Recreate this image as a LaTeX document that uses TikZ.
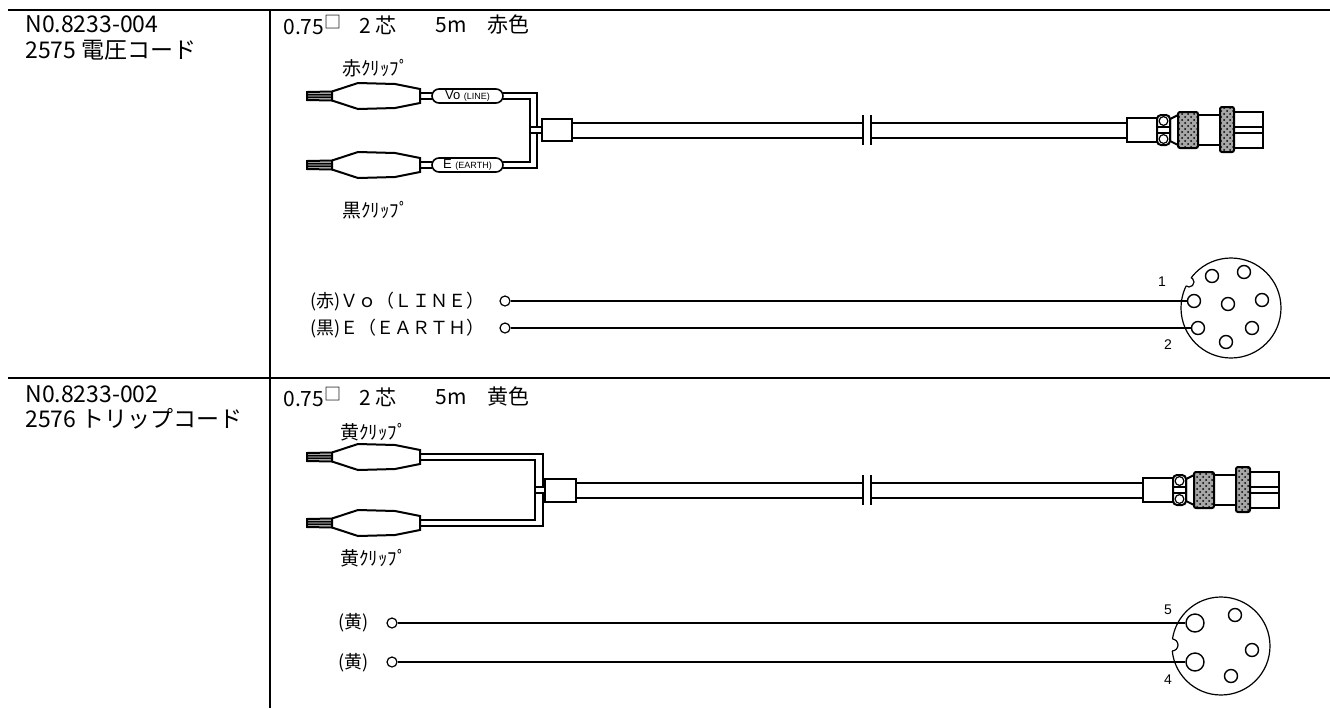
\documentclass[tikz,border=0pt]{standalone}
\usepackage{fontspec}
\setmainfont{Noto Sans CJK JP}
\newfontfamily\arialfont{Liberation Sans}
\usetikzlibrary{positioning,patterns}

\begin{document}
\begin{tikzpicture}[x=0.5pt,y=-0.5pt,
    frame/.style={line width=1.4pt},
    wire/.style={line width=1pt},
    sigline/.style={line width=0.6pt},
    title/.style={anchor=west,inner sep=0pt,font=\fontsize{11.5}{13}\selectfont},
    spec/.style={anchor=west,inner sep=0pt,font=\fontsize{10.5}{12}\selectfont},
    cliplabel/.style={anchor=west,inner sep=0pt,font=\fontsize{9.5}{11}\selectfont},
    sig/.style={anchor=west,inner sep=0pt,font=\fontsize{9}{11}\selectfont},
    capsule/.style={draw,line width=0.8pt,rounded corners=3.5pt,minimum width=35.5pt,minimum height=7pt,inner sep=0pt,fill=white},
    term/.style={circle,draw,line width=0.6pt,minimum size=5pt,inner sep=0pt},
    pin/.style={circle,draw,line width=0.7pt,minimum size=6.5pt,inner sep=0pt},
    bigpin/.style={pin,minimum size=9pt},
    pinno/.style={inner sep=0pt,font=\arialfont\fontsize{7}{8}\selectfont},
    knurl/.style={draw,line width=1pt,preaction={fill=black!35},pattern=crosshatch dots,rounded corners=1pt}]
\useasboundingbox (0,0) rectangle (1330,708);

% table
\draw[frame] (8,10) -- (1330,10);
\draw[frame] (8,378) -- (1330,378);
\draw[frame] (270,10) -- (270,708);

\node[title] (no1) at (25,24) {N0.8233-004};
\node[title] (name1) at (25,50) {2575 電圧コード};
\node[title] (no2) at (25,394) {N0.8233-002};
\node[title] (name2) at (25,419) {2576 トリップコード};

% spec lines
\node[spec] (size1) at (283,25) {0.75\raisebox{0.5ex}{\fontsize{8.5}{9}\selectfont □}};
\node[spec] (core1) at (359,25) {2 芯};
\node[spec] (len1) at (435,25) {5m};
\node[spec] (col1) at (487,25) {赤色};
\node[spec] (size2) at (283,397) {0.75\raisebox{0.5ex}{\fontsize{8.5}{9}\selectfont □}};
\node[spec] (core2) at (359,397) {2 芯};
\node[spec] (len2) at (435,397) {5m};
\node[spec] (col2) at (487,397) {黄色};

\node[cliplabel] (redclip) at (342,68) {赤ｸﾘｯﾌﾟ};
\node[cliplabel] (blackclip) at (342,210) {黒ｸﾘｯﾌﾟ};
\node[cliplabel] (yclip1) at (340,432) {黄ｸﾘｯﾌﾟ};
\node[cliplabel] (yclip2) at (340,558) {黄ｸﾘｯﾌﾟ};

% clips
\foreach \c in {96,165,457,523}{
  \draw[wire] (307,\c-4) -- (332,\c-4.5) -- (332,\c+4.5) -- (307,\c+4) -- cycle; %jaw
  \draw[wire] (307,\c-1.3) -- (332,\c-1.5) (307,\c+1.3) -- (332,\c+1.5);
  \draw[wire] (332,\c-4.5) -- (358,\c-13) -- (395,\c-12) -- (420,\c-7) -- (420,\c+7) -- (395,\c+12) -- (358,\c+13) -- (332,\c+4.5); %body
}

% 2575 wires
\draw[wire] (420,93) -- (432,93) (420,99) -- (432,99) (420,162) -- (432,162) (420,168) -- (432,168);
\node[capsule] (vo) at (467.5,96) {\arialfont\fontsize{6.5}{7}\selectfont Vo \fontsize{4.5}{5}\selectfont(LINE)};
\node[capsule] (earth) at (467.5,165) {\arialfont\fontsize{6.5}{7}\selectfont E \fontsize{4.5}{5}\selectfont(EARTH)};
\draw[wire] (503,93) -- (537,93) -- (537,127) -- (542,127);
\draw[wire] (503,99) -- (530,99) -- (530,162) -- (503,162);
\draw[wire] (503,168) -- (537,168) -- (537,133) -- (542,133);
\draw[wire] (530,127) -- (537,127) (530,133) -- (537,133);
\draw[wire] (542,119) rectangle (572,141);

% 2576 wires
\draw[wire] (420,454) -- (543,454) -- (543,487) -- (545,487);
\draw[wire] (420,460) -- (535,460) -- (535,520) -- (420,520);
\draw[wire] (420,526) -- (543,526) -- (543,493) -- (545,493);
\draw[wire] (535,487) -- (543,487) (535,493) -- (543,493);
\draw[wire] (545,479) rectangle (576,502);

% cable and plug
\foreach \dx/\j/\s in {0/130/572,16/490/576}{
  \draw[wire] (\s,\j-7.5) -- (863,\j-7.5) (\s,\j+7.5) -- (863,\j+7.5);
  \draw[wire] (871,\j-7.5) -- (1127+\dx,\j-7.5) (871,\j+7.5) -- (1127+\dx,\j+7.5);
  \draw[line width=1.3pt] (863,\j-15) -- (863,\j+15) (871,\j-15) -- (871,\j+15); %break
  \draw[wire] (1127+\dx,\j-12) rectangle (1157+\dx,\j+12);
  \draw[wire,rounded corners=2pt] (1157+\dx,\j-15) rectangle (1170+\dx,\j+15);
  \draw[line width=0.6pt] (1163.5+\dx,\j-9) circle (2.2pt) (1163.5+\dx,\j+9) circle (2.2pt);
  \draw[line width=0.6pt] (1157+\dx,\j-3) -- (1170+\dx,\j-3) (1157+\dx,\j+3) -- (1170+\dx,\j+3);
  \draw[wire] (1170+\dx,\j-11) -- (1178+\dx,\j-15) -- (1178+\dx,\j+15) -- (1170+\dx,\j+11) -- cycle;
  \draw[knurl] (1178+\dx,\j-18) rectangle (1198+\dx,\j+18);
  \draw[wire] (1198+\dx,\j-15) rectangle (1220+\dx,\j+15);
  \draw[knurl] (1220+\dx,\j-23) rectangle (1234+\dx,\j+22);
  \draw[wire] (1234+\dx,\j-18) rectangle (1263+\dx,\j+18);
  \draw[wire] (1234+\dx,\j-3) -- (1263+\dx,\j-3) (1234+\dx,\j+3) -- (1263+\dx,\j+3);
}

% 2575 pins
\node[sig] (vlab) at (310,302) {(赤)Ｖｏ（ＬＩＮＥ）};
\node[sig] (elab) at (310,329) {(黒)Ｅ（ＥＡＲＴＨ）};
\node[term] (t1) at (505,301) {};
\node[term] (t2) at (505,328) {};
\coordinate (plug1) at (1231,308);
\draw[sigline] (plug1) circle (25pt);
\fill[white] (1189,282) circle (2.5pt);
\begin{scope}
  \clip (plug1) circle (25pt);
  \draw[sigline] (1189,282) circle (2.5pt); %key
\end{scope}
\node[pin] (p1) at (1194,301) {};
\node[pin] (p2) at (1198,328) {};
\node[pin] (p3) at (1212,276) {};
\node[pin] (p4) at (1244,272) {};
\node[pin] (p5) at (1228,304) {};
\node[pin] (p6) at (1262,300) {};
\node[pin] (p7) at (1252,328) {};
\node[pin] (p8) at (1226,342) {};
\node[pinno] (n1) at (1162,282) {1};
\node[pinno] (n2) at (1168,345) {2};
\draw[sigline] (t1) -- (p1);
\draw[sigline] (t2) -- (p2);

% 2576 pins
\node[sig] (ylab1) at (338,623) {(黄)};
\node[sig] (ylab2) at (338,663) {(黄)};
\node[term] (t5) at (392,623) {};
\node[term] (t4) at (392,662) {};
\coordinate (plug2) at (1221,646);
\draw[sigline] (plug2) circle (24.5pt);
\fill[white] (1172,645) circle (3pt);
\begin{scope}
  \clip (plug2) circle (24.5pt);
  \draw[sigline] (1172,645) circle (3pt); %key
\end{scope}
\node[bigpin] (q5) at (1195,623) {};
\node[bigpin] (q4) at (1195,662) {};
\node[pin] (q1) at (1235,615) {};
\node[pin] (q2) at (1252,650) {};
\node[pin] (q3) at (1231,676) {};
\node[pinno] (n5) at (1168,610) {5};
\node[pinno] (n4) at (1168,680) {4};
\draw[sigline] (t5) -- (q5);
\draw[sigline] (t4) -- (q4);
\end{tikzpicture}
\end{document}
